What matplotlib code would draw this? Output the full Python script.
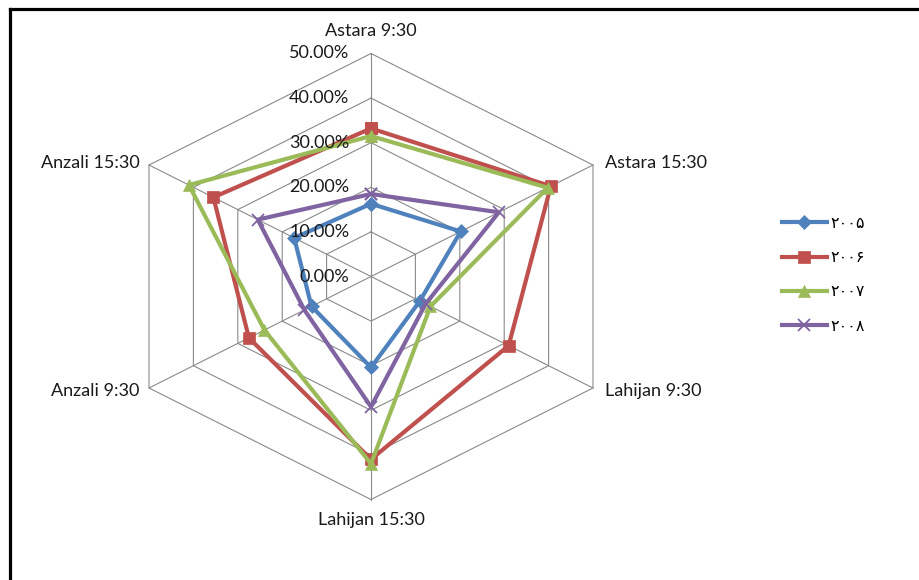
import numpy as np
import matplotlib
matplotlib.use('Agg')
import matplotlib.pyplot as plt
from matplotlib.lines import Line2D

# radar data (percent), clockwise from the top axis
categories = ['Astara 9:30', 'Astara 15:30', 'Lahijan 9:30',
              'Lahijan 15:30', 'Anzali 9:30', 'Anzali 15:30']
years = ['۲۰۰۵', '۲۰۰۶', '۲۰۰۷', '۲۰۰۸']
v2005 = [16.3, 20.2, 11.0, 20.4, 13.4, 17.3]
v2006 = [33.2, 40.5, 31.0, 41.0, 27.5, 35.5]
v2007 = [31.5, 39.8, 13.4, 42.0, 24.0, 41.0]
v2008 = [18.5, 28.8, 12.3, 29.2, 15.0, 25.5]
ticks = [0, 10, 20, 30, 40, 50]
tick_labels = ['0.00%', '10.00%', '20.00%', '30.00%', '40.00%', '50.00%']

series = [v2005, v2006, v2007, v2008]
colors = ['#4F81BD', '#C0504D', '#9BBB59', '#8064A2']
markers = ['D', 's', '^', 'x']
msizes = [7.5, 8.5, 9, 8.5]

plt.rcParams['font.family'] = ['Lato', 'DejaVu Sans']

fig = plt.figure(figsize=(9.2, 5.8), dpi=100)
ax = fig.add_axes([149 / 920, 80.5 / 580, 444 / 920, 446 / 580])
rmax = 50
ax.set_xlim(-rmax * np.cos(np.pi / 6), rmax * np.cos(np.pi / 6))
ax.set_ylim(-rmax, rmax)
ax.axis('off')

theta = np.deg2rad(90 - 60 * np.arange(len(categories)))
cx, cy = np.cos(theta), np.sin(theta)

# hexagon grid + spokes
grid_col = '#8a8a8a'
for t in ticks[1:]:
    ax.plot(np.append(cx, cx[0]) * t, np.append(cy, cy[0]) * t,
            color=grid_col, lw=0.8, zorder=1, clip_on=False)
for i in range(len(categories)):
    ax.plot([0, cx[i] * rmax], [0, cy[i] * rmax], color=grid_col, lw=0.8,
            zorder=1, clip_on=False)

# series
handles = []
for vals, col, mk, ms, lab in zip(series, colors, markers, msizes, years):
    r = np.array(vals + vals[:1])
    xs = r * np.append(cx, cx[0])
    ys = r * np.append(cy, cy[0])
    ln, = ax.plot(xs, ys, color=col, lw=3.0, marker=mk, markersize=ms,
                  markeredgewidth=1.3 if mk == 'x' else 0.5,
                  markeredgecolor=col, zorder=3, clip_on=False, label=lab)
    handles.append(ln)

# value labels on the vertical axis
for t, tl in zip(ticks, tick_labels):
    ax.annotate(tl, xy=(0, t), xytext=(-15.6, 0), textcoords='offset points',
                ha='right', va='center', fontsize=13, color='#1a1a1a')

# category labels
offs = [(0, 16), (8.6, 1.4), (8.6, -2), (0, -15), (-7.2, -2), (-6.5, 1.4)]
has = ['center', 'left', 'left', 'center', 'right', 'right']
for i, cat in enumerate(categories):
    ax.annotate(cat, xy=(cx[i] * rmax, cy[i] * rmax), xytext=offs[i],
                textcoords='offset points', ha=has[i], va='center',
                fontsize=13, color='#1a1a1a')

leg = fig.legend(handles=handles, loc='upper left',
                 bbox_to_anchor=(782 / 920, 1 - 216 / 580),
                 frameon=False, borderpad=0, borderaxespad=0,
                 handlelength=2.8, handletextpad=0.2, labelspacing=1.2,
                 prop={'family': 'DejaVu Sans', 'size': 11.5})

# frame lines (left and top only)
fig.add_artist(Line2D([10 / 920, 10 / 920], [0, 1 - 9 / 580],
                      transform=fig.transFigure, color='black', lw=2.3))
fig.add_artist(Line2D([10 / 920, 1], [1 - 9 / 580, 1 - 9 / 580],
                      transform=fig.transFigure, color='black', lw=2.3))

fig.savefig('out.png', dpi=100)
